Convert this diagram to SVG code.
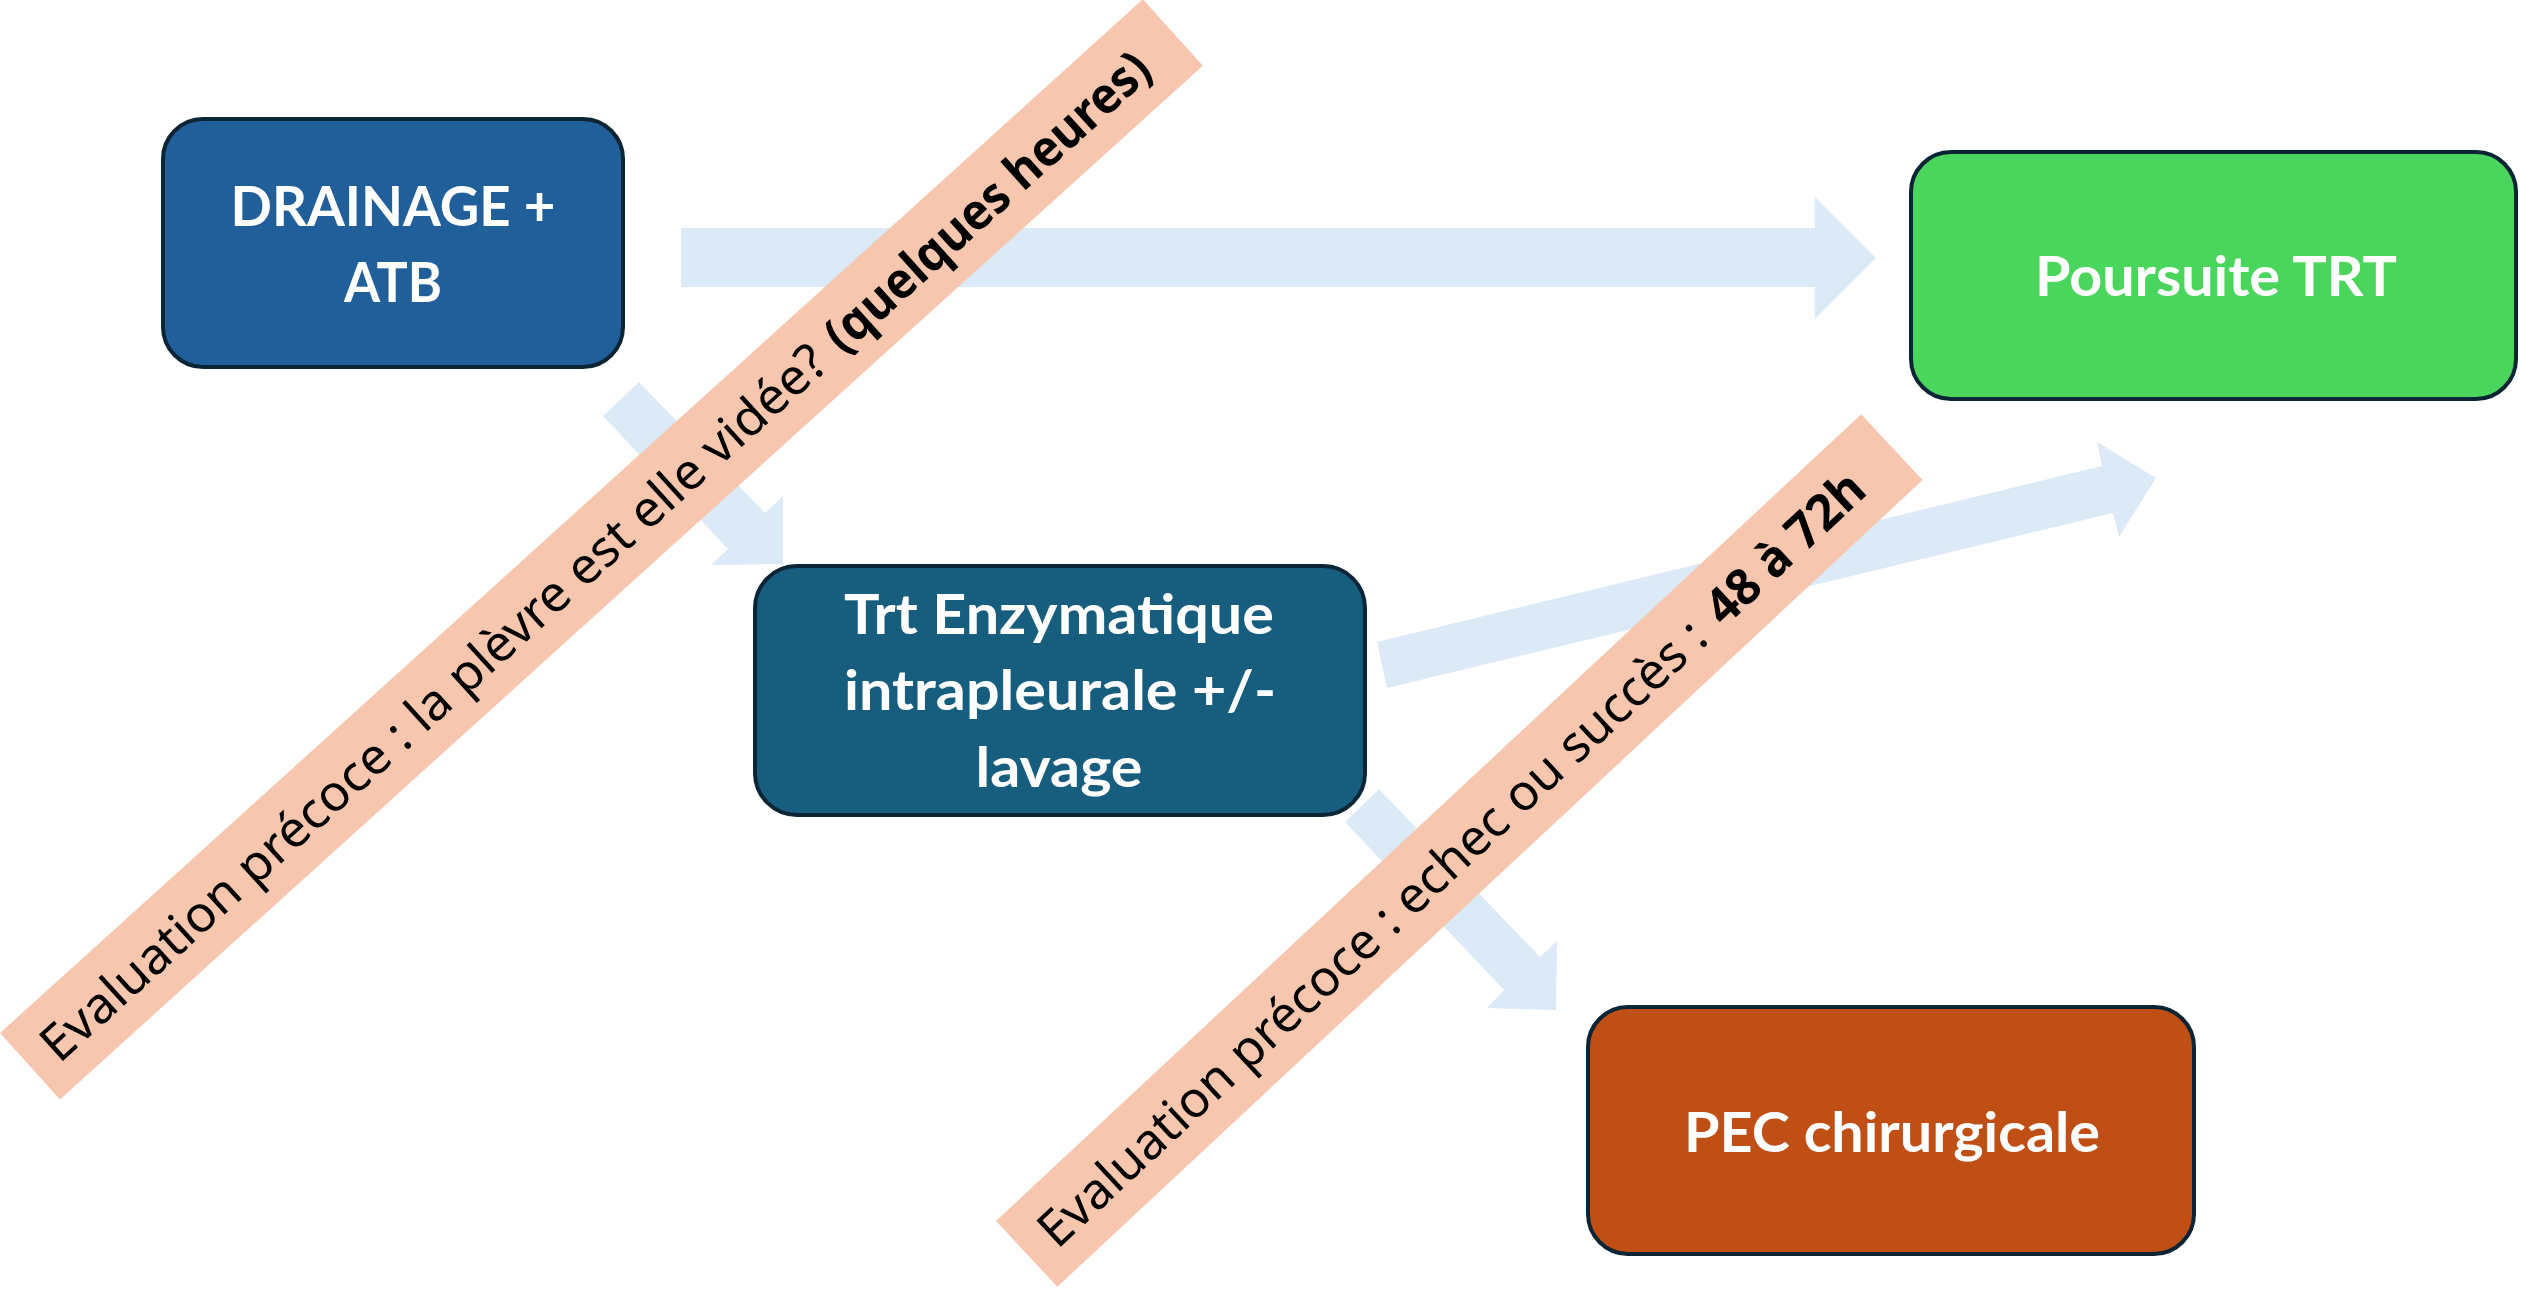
<svg xmlns="http://www.w3.org/2000/svg" width="2521" height="1289" viewBox="0 0 2521 1289">
<style>
.node{stroke:#0B2534;stroke-width:4}
.nt{font-family:Lato,"Open Sans",sans-serif;font-weight:bold;font-size:55px;fill:#FFFFFF;text-anchor:middle}
.arrow{fill:#DCE9F6;stroke:none}
.band{fill:#F6C7AE}
.bt{font-family:"Noto Sans","Open Sans",sans-serif;font-size:50px;fill:#000000}
.bb{font-weight:bold}
</style>
<rect width="2521" height="1289" fill="#FFFFFF"/>
<g id="connectors">
<polygon class="arrow" points="681,228 1815,228 1815,197 1876,258 1815,319 1815,287 681,287"/>
<polygon class="arrow" points="639,382 765,513 783,496 783,564 711,565 728,549 603,416"/>
<polygon class="arrow" points="1377,642 2102,466 2097,442 2156,478 2119,537 2113,513 1387,688"/>
<polygon class="arrow" points="1379,789 1540,957 1557,941 1556,1010 1487,1008 1504,990 1345,822"/>
</g>
<g id="node-drainage">
<rect class="node" x="163" y="119" width="460" height="248" rx="40" fill="#215F9A"/>
<text class="nt" x="393" y="226" textLength="325" lengthAdjust="spacingAndGlyphs">DRAINAGE +</text>
<text class="nt" x="393" y="302" textLength="98" lengthAdjust="spacingAndGlyphs">ATB</text>
</g>
<g id="node-poursuite">
<rect class="node" x="1911" y="152" width="605" height="247" rx="40" fill="#4AD55C"/>
<text class="nt" x="2216" y="296" textLength="362" lengthAdjust="spacingAndGlyphs">Poursuite TRT</text>
</g>
<g id="node-enzymatique">
<rect class="node" x="755" y="566" width="610" height="249" rx="42" fill="#175E7E"/>
<text class="nt" x="1059" y="634" textLength="430" lengthAdjust="spacingAndGlyphs">Trt Enzymatique</text>
<text class="nt" x="1060" y="710" textLength="432" lengthAdjust="spacingAndGlyphs">intrapleurale +/-</text>
<text class="nt" x="1059" y="787" textLength="167" lengthAdjust="spacingAndGlyphs">lavage</text>
</g>
<g id="node-pec">
<rect class="node" x="1588" y="1007" width="606" height="247" rx="40" fill="#C04F15"/>
<text class="nt" x="1892" y="1152" textLength="416" lengthAdjust="spacingAndGlyphs">PEC chirurgicale</text>
</g>
<g id="label-evaluation-1" transform="translate(0,1033) rotate(-42.13)">
<rect class="band" x="0" y="0" width="1541" height="89.5"/>
<text class="bt" x="23" y="63" textLength="1040" lengthAdjust="spacingAndGlyphs">Evaluation précoce : la plèvre est elle vidée?</text>
<text class="bt bb" x="1080" y="63" textLength="420" lengthAdjust="spacingAndGlyphs">(quelques heures)</text>
</g>
<g id="label-evaluation-2" transform="translate(996,1221) rotate(-43.0)">
<rect class="band" x="0" y="0" width="1183" height="90"/>
<text class="bt" x="25" y="63" textLength="893" lengthAdjust="spacingAndGlyphs">Evaluation précoce : echec ou succès :</text>
<text class="bt bb" x="937" y="63" textLength="198" lengthAdjust="spacingAndGlyphs">48 à 72h</text>
</g>
</svg>
